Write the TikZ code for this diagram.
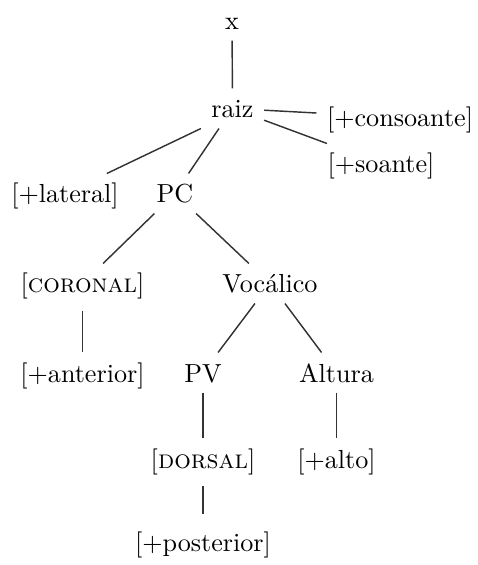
\documentclass[tikz,border=0pt]{standalone}
\begin{document}
\begin{tikzpicture}[x=0.3829pt,y=-0.3829pt,
  lbl/.style={anchor=base,inner xsep=3.83pt,inner ysep=0pt,text height=11.1pt,text depth=3.83pt},
  edge/.style={line width=0.55pt,draw=black!80}]
\useasboundingbox (0,0) rectangle (478,565);
\node[lbl] (x) at (232,30) {x};
\node[lbl] (raiz) at (232.5,118) {raiz};
\node[lbl] (consoante) at (400,127) {[+consoante]};
\node[lbl] (soante) at (381,173) {[+soante]};
\node[lbl] (lateral) at (65,203) {[+lateral]};
\node[lbl] (PC) at (175,203) {PC};
\node[lbl] (coronal) at (82.5,293) {[\textsc{coronal}]};
\node[lbl] (vocalico) at (270,293) {Voc\'alico};
\node[lbl] (anterior) at (82.5,382) {[+anterior]};
\node[lbl] (PV) at (203,382) {PV};
\node[lbl] (altura) at (336.5,382) {Altura};
\node[lbl] (dorsal) at (203,468) {[\textsc{dorsal}]};
\node[lbl] (alto) at (336.5,468) {[+alto]};
\node[lbl] (posterior) at (203,551) {[+posterior]};
\draw[edge] (x) -- (raiz);
\draw[edge] (raiz) -- (consoante);
\draw[edge] (raiz) -- (soante);
\draw[edge] (raiz.south west) -- (lateral);
\draw[edge] (raiz) -- (PC);
\draw[edge] (PC) -- (coronal);
\draw[edge] (PC) -- (vocalico);
\draw[edge,shorten <=2.7pt] (coronal) -- (anterior);
\draw[edge] (vocalico) -- (PV);
\draw[edge] (vocalico) -- (altura);
\draw[edge] (PV) -- (dorsal);
\draw[edge] (altura) -- (alto);
\draw[edge,shorten <=3pt,shorten >=3pt] (dorsal) -- (posterior);
\end{tikzpicture}
\end{document}
